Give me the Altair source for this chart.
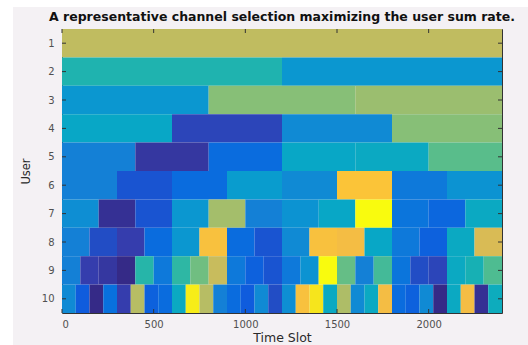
import altair as alt
import pandas as pd

# ---- data ----
title_text = "A representative channel selection maximizing the user sum rate."
users = [1, 2, 3, 4, 5, 6, 7, 8, 9, 10]
seg_len = [2400, 1200, 800, 600, 400, 300, 200, 150, 100, 75]
# colour index (1..64 of the parula map) of every segment, left to right
ch_u1 = [46]
ch_u2 = [30, 21]
ch_u3 = [21, 40, 42]
ch_u4 = [25, 5, 18, 40]
ch_u5 = [16, 3, 11, 25, 26, 36]
ch_u6 = [16, 7, 11, 22, 18, 55, 14, 20]
ch_u7 = [19, 2, 7, 21, 43, 16, 20, 25, 64, 13, 10, 26]
ch_u8 = [16, 6, 4, 11, 21, 54, 11, 7, 18, 54, 53, 25, 14, 9, 26, 49]
ch_u9 = [16, 4, 3, 1, 31, 14, 32, 38, 47, 14, 9, 7,
         14, 20, 64, 37, 16, 34, 13, 6, 5, 26, 29, 35]
ch_u10 = [18, 8, 1, 12, 4, 45, 9, 11, 26, 62, 45, 16, 11, 8, 18, 6,
          19, 54, 61, 26, 44, 18, 26, 53, 11, 9, 18, 1, 26, 53, 2, 27]
channels = [ch_u1, ch_u2, ch_u3, ch_u4, ch_u5, ch_u6, ch_u7, ch_u8, ch_u9, ch_u10]

x_ticks = [0, 500, 1000, 1500, 2000]
x_max = 2400

# parula colour map stops
par_dom = [1, 4, 8, 12, 16, 20, 24, 28, 32, 36, 40, 44, 48, 52, 56, 60, 64]
par_rng = ["#352a87", "#353dad", "#0f5cdd", "#0871de", "#1480d6", "#0c93d2",
           "#06a4ca", "#0faeb9", "#2eb7a4", "#59bd8b", "#87bf77", "#aebd67",
           "#d1bb59", "#f1b94a", "#fec832", "#f5de21", "#f9fb0e"]

rows = []
for u, L, vals in zip(users, seg_len, channels):
    for i, v in enumerate(vals):
        rows.append({"user": u, "t0": i * L, "t1": (i + 1) * L,
                     "y0": u - 0.5, "y1": u + 0.5, "ch": v})
df = pd.DataFrame(rows)

W, H = 440, 284
FONT = "DejaVu Sans"

xs = alt.Scale(domain=[0, x_max], nice=False, zero=False)
ys = alt.Scale(domain=[0.5, 10.5], reverse=True, nice=False, zero=False)

x_axis = alt.Axis(values=x_ticks, format="d", title="Time Slot", ticks=False,
                  domain=False, grid=False, labelFontSize=10,
                  labelColor="#505050", labelFont=FONT, labelPadding=6,
                  labelOverlap=False, titleFont=FONT,
                  titleFontSize=12.5, titleFontWeight="normal",
                  titleColor="#2a2a2a", titlePadding=2)
y_axis = alt.Axis(values=users, title="User", ticks=False, domain=False,
                  grid=False, labelFontSize=10, labelColor="#505050",
                  labelFont=FONT, labelPadding=8, labelOverlap=False,
                  titleFont=FONT, titleFontSize=11.5, titleFontWeight="normal",
                  titleColor="#2a2a2a", titlePadding=10)

heat = alt.Chart(df).mark_rect(strokeWidth=0).encode(
    x=alt.X("t0:Q", scale=xs, axis=x_axis),
    x2="t1:Q",
    y=alt.Y("y0:Q", scale=ys, axis=y_axis),
    y2="y1:Q",
    color=alt.Color("ch:Q", scale=alt.Scale(domain=par_dom, range=par_rng,
                                            interpolate="rgb"), legend=None),
)

xt = pd.DataFrame({"x": x_ticks})
yt = pd.DataFrame({"y": users})
tick_col = "#333333"
xt_bot = alt.Chart(xt).mark_rule(color=tick_col, strokeWidth=1).encode(
    x=alt.X("x:Q", scale=xs, axis=x_axis), y=alt.value(H), y2=alt.value(H - 4))
xt_top = alt.Chart(xt).mark_rule(color=tick_col, strokeWidth=1).encode(
    x=alt.X("x:Q", scale=xs, axis=x_axis), y=alt.value(0), y2=alt.value(4))
yt_l = alt.Chart(yt).mark_rule(color=tick_col, strokeWidth=1).encode(
    y=alt.Y("y:Q", scale=ys, axis=y_axis), x=alt.value(0), x2=alt.value(4))
yt_r = alt.Chart(yt).mark_rule(color=tick_col, strokeWidth=1).encode(
    y=alt.Y("y:Q", scale=ys, axis=y_axis), x=alt.value(W), x2=alt.value(W - 4))

# white page margin at the left and top of the figure
margin_left = alt.Chart(xt).mark_rect(color="white").encode(
    x=alt.value(-62), x2=alt.value(-49), y=alt.value(-29), y2=alt.value(H + 32))
margin_top = alt.Chart(xt).mark_rect(color="white").encode(
    x=alt.value(-62), x2=alt.value(W + 26), y=alt.value(-29), y2=alt.value(-22))

title = alt.Chart(pd.DataFrame({"t": [title_text]})).mark_text(
    font=FONT, fontSize=12.5, fontWeight="bold", color="#111111",
    align="center", baseline="alphabetic").encode(
    text="t:N", x=alt.value(W / 2), y=alt.value(-8.5))

chart = alt.layer(margin_left, margin_top, heat, xt_bot, xt_top, yt_l, yt_r, title).properties(
    width=W, height=H,
    autosize=alt.AutoSizeParams(type="none"),
    padding={"left": 62, "top": 29, "right": 26, "bottom": 32},
    background="#f4f1f4",
).configure_view(stroke="#333333", strokeWidth=1)

chart.save("out.html", embed_options={"renderer": "svg", "actions": False})
